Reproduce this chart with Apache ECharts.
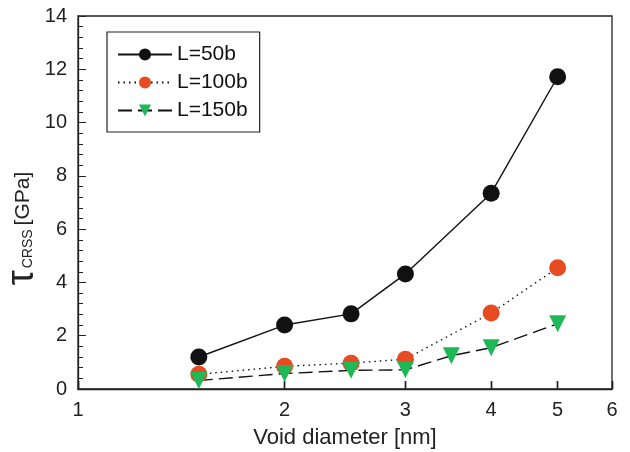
<!DOCTYPE html>
<html><head><meta charset="utf-8">
<script src="https://cdn.jsdelivr.net/npm/echarts@6/dist/echarts.min.js"></script>
<style>html,body{margin:0;padding:0;background:#fff}#c{width:630px;height:452px}</style>
</head><body><div id="c"></div>
<script>
const xTicks = [1, 2, 3, 4, 5, 6];
const xL50 = [1.5, 2, 2.5, 3, 4, 5];
const yL50 = [1.2, 2.4, 2.82, 4.32, 7.35, 11.72];
const xL100 = [1.5, 2, 2.5, 3, 4, 5];
const yL100 = [0.55, 0.85, 0.97, 1.12, 2.85, 4.55];
const xL150 = [1.5, 2, 2.5, 3, 3.5, 4, 5];
const yL150 = [0.32, 0.58, 0.7, 0.72, 1.25, 1.55, 2.45];
const names = ['L=50b', 'L=100b', 'L=150b'];

const pair = (xs, ys) => xs.map((x, i) => [x, ys[i]]);
const font = 'Liberation Sans, Arial, sans-serif';
const chart = echarts.init(document.getElementById('c'));
chart.setOption({
  animation: false,
  grid: { left: 78, right: 18, top: 16, bottom: 63, show: true, borderColor: '#222', borderWidth: 1.3, outerBoundsMode: 'none', containLabel: false },
  legend: {
    orient: 'vertical', left: 107, top: 32,
    padding: [12, 12, 11, 10], itemGap: 7,
    borderColor: '#222', borderWidth: 1.2,
    itemWidth: 54, itemHeight: 15,
    textStyle: { fontFamily: font, fontSize: 21, color: '#111' },
    data: names
  },
  xAxis: [{
    type: 'log', logBase: 10, min: 1, max: 6,
    name: 'Void diameter [nm]', nameLocation: 'middle', nameGap: 38, nameMoveOverlap: false,
    nameTextStyle: { fontFamily: font, fontSize: 22, color: '#222' },
    axisLine: { lineStyle: { color: '#222', width: 1.3 } },
    axisTick: { show: true, inside: true, length: 8, customValues: xTicks, lineStyle: { color: '#222', width: 1.4 } },
    axisLabel: { customValues: xTicks, fontFamily: font, fontSize: 20, color: '#222', margin: 11, formatter: v => String(Math.round(v)) },
    splitLine: { show: false }, minorTick: { show: false }
  }, {
    type: 'log', logBase: 10, min: 1, max: 6, position: 'top', offset: -373,
    axisLine: { show: false }, axisLabel: { show: false }, splitLine: { show: false },
    axisTick: { show: true, inside: false, length: 8, customValues: xTicks, lineStyle: { color: '#222', width: 1.4 } }
  }],
  yAxis: {
    type: 'value', min: 0, max: 14, interval: 2,
    name: '{t|τ}{s|CRSS}{n|[GPa]}', nameLocation: 'middle', nameGap: 36, nameMoveOverlap: false,
    nameTextStyle: { padding: [0, 52, 0, 0], rich: {
      t: { fontFamily: font, fontSize: 38, color: '#222' },
      s: { fontFamily: font, fontSize: 14, color: '#222', padding: [10, 4, 0, 2] },
      n: { fontFamily: font, fontSize: 21, color: '#222' } } },
    axisLine: { lineStyle: { color: '#222', width: 1.3 } },
    axisTick: { inside: true, length: 8, lineStyle: { color: '#222' } },
    minorTick: { show: true, splitNumber: 5, length: 5, lineStyle: { color: '#222' } },
    axisLabel: { fontFamily: font, fontSize: 20, color: '#222', margin: 11 },
    splitLine: { show: false }
  },
  series: [
    { name: names[0], type: 'line', data: pair(xL50, yL50), symbol: 'circle', symbolSize: 17,
      itemStyle: { color: '#111' }, lineStyle: { color: '#111', width: 1.4, type: 'solid' } },
    { name: names[1], type: 'line', data: pair(xL100, yL100), symbol: 'circle', symbolSize: 17,
      itemStyle: { color: '#e84a22' }, lineStyle: { color: '#111', width: 1.4, type: [1.5, 4] } },
    { name: names[2], type: 'line', data: pair(xL150, yL150), symbol: 'triangle', symbolRotate: 180, symbolSize: 17,
      itemStyle: { color: '#1fb857' }, lineStyle: { color: '#111', width: 1.4, type: [14, 6] } }
  ]
});
</script></body></html>
